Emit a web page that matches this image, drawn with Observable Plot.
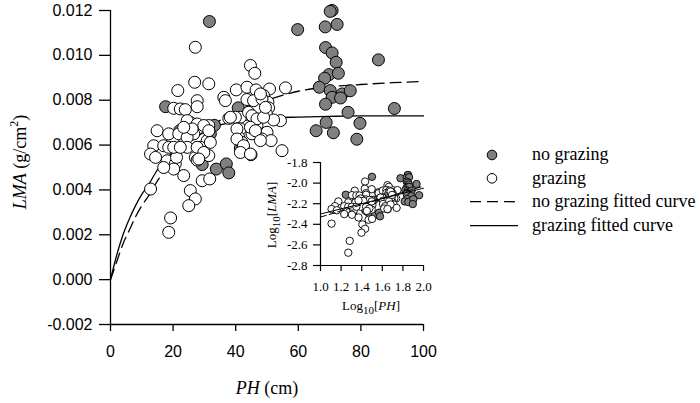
<!DOCTYPE html>
<html><head><meta charset="utf-8">
<script src="https://cdn.jsdelivr.net/npm/d3@7"></script>
<script src="https://cdn.jsdelivr.net/npm/@observablehq/plot@0.6"></script>
<style>body{margin:0;background:#fff} #chart{width:700px;height:403px}</style>
</head><body><div id="chart"></div>
<script>
// ---- data ----
const grazingPH = [27.1,44.7,46.1,26.9,31.4,21.5,27.7,27.7,20.2,22.3,
  23.9,36.2,36.7,40.2,43.6,46.5,50.8,55.9,48.9,43.6,
  45.7,50.3,50.5,49.8,54.3,52.1,37.8,41.5,41.5,41.0,
  42.0,42.5,44.9,46.8,47.7,50.0,48.4,51.3,54.8,45.2,
  44.1,45.2,39.9,38.3,46.8,48.9,40.4,44.7,46.3,40.4,
  42.5,47.9,41.5,44.7,48.4,47.9,14.9,18.6,21.8,25.5,
  28.7,31.4,26.6,30.9,28.7,31.9,13.8,17.0,18.6,23.4,
  24.5,12.8,14.4,18.1,20.7,21.1,27.1,27.7,31.4,20.2,
  23.4,29.3,31.7,12.8,25.5,27.1,25.0,19.2,18.6,17.0,
  24.5,27.7,29.8,26.1,24.5,27.7,29.8,28.2,20.2,22.3,
  31.4,49.5,23.4];
const grazingLMA = [0.01036,0.00955,0.0092,0.0088,0.00873,0.00843,0.00798,0.00771,0.00764,0.00761,
  0.00758,0.00813,0.00798,0.00846,0.00858,0.00846,0.0085,0.00855,0.00821,0.00803,
  0.00798,0.00791,0.00766,0.00739,0.00709,0.00712,0.00719,0.00724,0.00672,0.00634,
  0.00612,0.0059,0.00557,0.00687,0.0065,0.00657,0.00627,0.0062,0.00575,0.0065,
  0.00746,0.00731,0.00724,0.00724,0.00717,0.00724,0.00672,0.00679,0.00664,0.00627,
  0.00597,0.0062,0.00567,0.0056,0.00806,0.00828,0.00664,0.0065,0.0065,0.00701,
  0.00679,0.00687,0.0065,0.0062,0.0059,0.00612,0.00597,0.00597,0.0059,0.00605,
  0.00634,0.0056,0.00545,0.0053,0.00516,0.00545,0.00545,0.00533,0.00553,0.00493,
  0.00464,0.00441,0.00449,0.00404,0.00397,0.0036,0.0033,0.00275,0.00211,0.005,
  0.00709,0.00694,0.00687,0.00672,0.0059,0.0059,0.00567,0.00538,0.0059,0.0059,
  0.00664,0.00768,0.00679];
const noGrazingPH = [59.8,70.8,70.2,68.6,72.4,68.7,70.8,72.1,85.6,69.8,
  68.4,72.8,66.7,70.2,70.8,74.0,73.5,76.6,68.7,75.9,
  90.7,68.9,65.7,71.2,79.7,78.7,31.6,17.6,40.8,33.2,
  22.1,41.5,29.3,33.8,37.0,37.8,31.9];
const noGrazingLMA = [0.01115,0.0120,0.01196,0.01127,0.01138,0.01035,0.01011,0.00969,0.0098,0.00914,
  0.00898,0.0092,0.00858,0.00843,0.00813,0.00828,0.0081,0.00842,0.00782,0.00746,
  0.00763,0.00701,0.00664,0.00655,0.00697,0.00626,0.01151,0.00771,0.00766,0.00688,
  0.00664,0.00587,0.00513,0.00493,0.00516,0.00476,0.0065];
const fitPH = [0,2,4,6,8,10,12,15,20,25,30,35,40,50,60,70,80,90,100];
const grazingFitLMA   = [0,0.0011,0.0020,0.0027,0.0033,0.0038,0.0042,0.0049,0.0057,0.0063,0.0067,0.0069,0.00705,0.0072,0.00725,0.00728,0.0073,0.0073,0.0073];
const noGrazingFitLMA = [0,0.0008,0.0016,0.0022,0.0028,0.0033,0.0037,0.0044,0.0054,0.0061,0.0066,0.0071,0.0075,0.0080,0.0084,0.0086,0.0087,0.00878,0.00884];
const insetFitLogPH = [1.0, 2.0];
const grazingInsetFitLog = [-2.30, -2.05];
const noGrazingInsetFitLog = [-2.33, -2.03];
const xTicks = [0,20,40,60,80,100];
const yTicks = [-0.002,0,0.002,0.004,0.006,0.008,0.010,0.012];
const insetXTicks = [1.0,1.2,1.4,1.6,1.8,2.0];
const insetYTicks = [-2.8,-2.6,-2.4,-2.2,-2.0,-1.8];
const legendLabels = ["no grazing","grazing","no grazing fitted curve","grazing fitted curve"];

const SERIF = "'Liberation Serif','Times New Roman',serif";
const SANS = "'Liberation Sans',Arial,sans-serif";
const GRAY = "#808080";

const grazing = grazingPH.map((x,i)=>({x, y: grazingLMA[i]}));
const noGrazing = noGrazingPH.map((x,i)=>({x, y: noGrazingLMA[i]}));
const gFit = fitPH.map((x,i)=>({x, y: grazingFitLMA[i]}));
const nFit = fitPH.map((x,i)=>({x, y: noGrazingFitLMA[i]}));

const main = Plot.plot({
  width: 700, height: 403,
  marginLeft: 110, marginRight: 277, marginTop: 10, marginBottom: 79,
  style: {fontFamily: SANS, fontSize: "16px", background: "transparent", overflow: "visible", color: "black"},
  x: {domain: [0,100]},
  y: {domain: [-0.002, 0.012]},
  marks: [
    Plot.ruleX([0], {stroke: "black", strokeWidth: 1.3}),
    Plot.ruleY([-0.002], {stroke: "black", strokeWidth: 1.3}),
    Plot.axisX({ticks: xTicks, tickSize: 7, tickPadding: 14, tickFormat: d => String(d), label: null, stroke: "black", strokeWidth: 1.3, strokeOpacity: 1, fill: "black"}),
    Plot.axisY({ticks: yTicks, tickSize: 11, tickPadding: 7, tickFormat: d => d.toFixed(3), label: null, stroke: "black", strokeWidth: 1.3, strokeOpacity: 1, fill: "black"}),
    Plot.line(nFit, {x: "x", y: "y", stroke: "black", strokeWidth: 1.3, strokeDasharray: "11,6", curve: "monotone-x"}),
    Plot.line(gFit, {x: "x", y: "y", stroke: "black", strokeWidth: 1.3, curve: "monotone-x"}),
    Plot.dot(noGrazing, {x: "x", y: "y", r: 6, fill: GRAY, stroke: "black", strokeWidth: 1}),
    Plot.dot(grazing, {x: "x", y: "y", r: 6, fill: "white", stroke: "black", strokeWidth: 1})
  ]
});

// inset (log-log)
const lg = v => Math.log10(v);
const iGrazing = grazing.map(d => ({x: lg(d.x), y: lg(d.y)}));
const iNoGrazing = noGrazing.map(d => ({x: lg(d.x), y: lg(d.y)}));
const iGFit = insetFitLogPH.map((x,i)=>({x, y: grazingInsetFitLog[i]}));
const iNFit = insetFitLogPH.map((x,i)=>({x, y: noGrazingInsetFitLog[i]}));

const inset = Plot.plot({
  width: 170, height: 170,
  marginLeft: 60, marginRight: 7, marginTop: 12, marginBottom: 55,
  style: {fontFamily: SERIF, fontSize: "13px", background: "transparent", overflow: "visible", color: "black"},
  x: {domain: [1, 2]},
  y: {domain: [-2.8, -1.8]},
  marks: [
    Plot.ruleX([1], {stroke: "black", strokeWidth: 1.2}),
    Plot.ruleY([-2.8], {stroke: "black", strokeWidth: 1.2}),
    Plot.axisX({ticks: insetXTicks, tickSize: 6, tickPadding: 10, tickFormat: d => d.toFixed(1), label: null, stroke: "black", strokeWidth: 1.2, strokeOpacity: 1, fill: "black"}),
    Plot.axisY({ticks: insetYTicks, tickSize: 7, tickPadding: 6, tickFormat: d => d.toFixed(1), label: null, stroke: "black", strokeWidth: 1.2, strokeOpacity: 1, fill: "black"}),
    Plot.dot(iNoGrazing, {x: "x", y: "y", r: 3.7, fill: GRAY, stroke: "black", strokeWidth: 0.9}),
    Plot.dot(iGrazing, {x: "x", y: "y", r: 3.7, fill: "white", stroke: "black", strokeWidth: 0.9}),
    Plot.line(iNFit, {x: "x", y: "y", stroke: "black", strokeWidth: 1, strokeDasharray: "6,3"}),
    Plot.line(iGFit, {x: "x", y: "y", stroke: "black", strokeWidth: 1})
  ]
});

const svg = d3.select(main);
const insetG = svg.append("g")
  .attr("transform", "translate(260,150)")
  .attr("font-family", SERIF).attr("font-size", 13)
  .attr("fill", "black").attr("text-anchor", "middle");
Array.from(inset.childNodes).forEach(n => { if (n.nodeName.toLowerCase() !== "style") insetG.node().appendChild(n); });

// axis titles
const xt = svg.append("text").attr("x", 267).attr("y", 394).attr("text-anchor", "middle")
  .attr("font-family", SERIF).attr("font-size", 18).attr("fill", "black");
xt.append("tspan").attr("font-style", "italic").text("PH");
xt.append("tspan").text(" (cm)");

const yt = svg.append("text").attr("transform", "translate(26,162) rotate(-90)").attr("text-anchor", "middle")
  .attr("font-family", SERIF).attr("font-size", 18).attr("fill", "black");
yt.append("tspan").attr("font-style", "italic").text("LMA");
yt.append("tspan").text(" (g/cm");
yt.append("tspan").attr("font-size", 12).attr("dy", -8).text("2");
yt.append("tspan").attr("dy", 8).text(")");

// inset titles
const ixt = svg.append("text").attr("x", 371).attr("y", 310).attr("text-anchor", "middle")
  .attr("font-family", SERIF).attr("font-size", 13).attr("fill", "black");
ixt.append("tspan").text("Log");
ixt.append("tspan").attr("font-size", 11).attr("dy", 4).text("10");
ixt.append("tspan").attr("dy", -4).text("[");
ixt.append("tspan").attr("font-style", "italic").text("PH");
ixt.append("tspan").text("]");

const iyt = svg.append("text").attr("transform", "translate(276,215) rotate(-90)").attr("text-anchor", "middle")
  .attr("font-family", SERIF).attr("font-size", 13).attr("fill", "black");
iyt.append("tspan").text("Log");
iyt.append("tspan").attr("font-size", 11).attr("dy", 4).text("10");
iyt.append("tspan").attr("dy", -4).text("[");
iyt.append("tspan").attr("font-style", "italic").text("LMA");
iyt.append("tspan").text("]");

// legend
const leg = svg.append("g").attr("font-family", SERIF).attr("font-size", 18).attr("fill", "black").attr("text-anchor", "start");
leg.append("circle").attr("cx", 492).attr("cy", 155).attr("r", 4.8).attr("fill", GRAY).attr("stroke", "black").attr("stroke-width", 1);
leg.append("circle").attr("cx", 492).attr("cy", 178.3).attr("r", 4.8).attr("fill", "white").attr("stroke", "black").attr("stroke-width", 1);
leg.append("line").attr("x1", 470).attr("x2", 516).attr("y1", 201.7).attr("y2", 201.7).attr("stroke", "black").attr("stroke-width", 1.3).attr("stroke-dasharray", "11,6");
leg.append("line").attr("x1", 470).attr("x2", 518).attr("y1", 225.7).attr("y2", 225.7).attr("stroke", "black").attr("stroke-width", 1.3);
const ly = [160, 183.5, 206.5, 230.5];
legendLabels.forEach((t,i) => leg.append("text").attr("x", 532).attr("y", ly[i]).text(t));

document.getElementById("chart").appendChild(main);
</script>
</body></html>
